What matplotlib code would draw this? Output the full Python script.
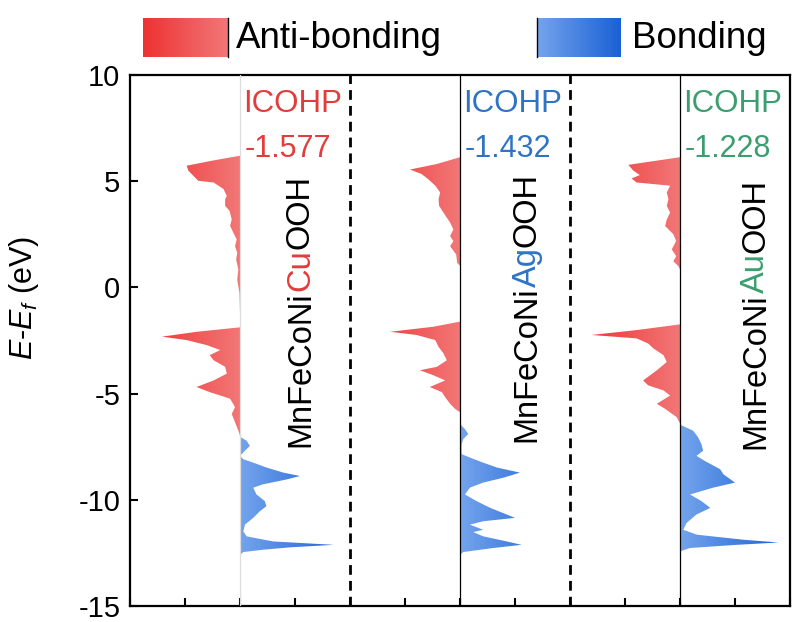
import numpy as np
import matplotlib
matplotlib.use('Agg')
import matplotlib.pyplot as plt
from matplotlib.colors import LinearSegmentedColormap

plt.rcParams['font.family'] = 'Liberation Sans'
plt.rcParams['mathtext.fontset'] = 'custom'
plt.rcParams['mathtext.rm'] = 'Liberation Sans'
plt.rcParams['mathtext.it'] = 'Liberation Sans:italic'
plt.rcParams['axes.unicode_minus'] = False

# -COHP profiles (negative = anti-bonding, positive = bonding), energies in eV
cu_anti_e = [6.2, 5.97, 5.73, 5.5, 5.26, 5.02, 4.94, 4.63, 4.31, 4.15, 3.84, 3.6, 3.2, 2.9, 2.57, 2.26, 1.94,
             1.63, 1.31, 0.84, 0.36, -0.27, -1.2, -1.88, -2.09, -2.32, -2.48, -2.72, -2.95, -3.19, -3.43, -3.74,
             -4.06, -4.38, -4.69, -4.93, -5.24, -5.64, -5.96, -6.35, -6.75, -6.98]
cu_anti = [0, -0.5, -0.97, -0.94, -0.85, -0.76, -0.48, -0.3, -0.24, -0.27, -0.27, -0.19, -0.15, -0.18, -0.12, -0.06,
           -0.09, -0.05, -0.07, -0.03, -0.05, -0.01, 0, 0, -0.79, -1.42, -0.97, -0.6, -0.36, -0.55, -0.48, -0.27,
           -0.24, -0.48, -0.79, -0.55, -0.18, -0.09, -0.15, -0.09, -0.03, 0]
cu_bond_e = [-7.03, -7.22, -7.46, -7.69, -7.93, -8.09, -8.25, -8.48, -8.72, -8.88, -9.04, -9.27, -9.43, -9.75,
             -10.06, -10.3, -10.54, -10.85, -11.17, -11.49, -11.72, -11.96, -12.12, -12.24, -12.35, -12.46, -12.59]
cu_bond = [0, 0.12, 0.18, 0.09, 0, 0.06, 0.24, 0.48, 0.79, 1.09, 0.85, 0.42, 0.24, 0.3, 0.45, 0.48, 0.36, 0.24,
           0.09, 0.06, 0.12, 0.6, 1.7, 0.9, 0.42, 0.06, 0]

ag_anti_e = [6.13, 5.81, 5.55, 5.34, 5.1, 4.79, 4.47, 4.15, 3.84, 3.52, 3.05, 2.73, 2.42, 2.18, 1.94, 1.55, 1.15,
             1.03, -1.61, -1.85, -2.09, -2.24, -2.48, -2.8, -3.11, -3.43, -3.74, -3.9, -4.14, -4.38, -4.69, -4.93,
             -5.17, -5.48, -5.72, -5.88]
ag_anti = [0, -0.42, -0.91, -0.7, -0.58, -0.45, -0.36, -0.39, -0.38, -0.3, -0.18, -0.12, -0.18, -0.12, -0.18, -0.07,
           -0.05, 0, 0, -0.48, -1.27, -0.79, -0.45, -0.39, -0.3, -0.24, -0.42, -0.73, -0.48, -0.27, -0.55, -0.33,
           -0.27, -0.18, -0.09, 0]
ag_bond_e = [-6.43, -6.67, -6.9, -7.14, -7.38, -7.85, -8.01, -8.25, -8.48, -8.72, -8.96, -9.19, -9.43, -9.75,
             -10.06, -10.38, -10.85, -11.01, -11.17, -11.41, -11.52, -11.72, -11.96, -12.12, -12.27, -12.46, -12.59]
ag_bond = [0, 0.09, 0.15, 0.06, 0.03, 0.03, 0.18, 0.42, 0.67, 1.09, 0.79, 0.42, 0.18, 0.09, 0.3, 0.55, 1.0, 0.42,
           0.18, 0.42, 0.24, 0.42, 0.85, 1.12, 0.6, 0.06, 0]

au_anti_e = [6.13, 5.92, 5.77, 5.5, 5.29, 5.13, 4.94, 4.79, 4.47, 4.15, 3.84, 3.52, 3.2, 2.89, 2.5, 2.18, 1.79,
             1.47, 1.23, 1.0, 0.85, -1.74, -2.01, -2.24, -2.4, -2.64, -2.88, -3.19, -3.51, -3.9, -4.38, -4.61,
             -4.85, -5.09, -5.48, -5.72, -6.11, -6.4]
au_anti = [0, -0.55, -0.94, -0.85, -0.73, -0.88, -0.79, -0.18, -0.24, -0.21, -0.24, -0.18, -0.24, -0.27, -0.12,
           -0.07, -0.15, -0.07, -0.12, -0.03, 0, 0, -0.79, -1.61, -0.79, -0.58, -0.48, -0.3, -0.24, -0.42, -0.67,
           -0.58, -0.3, -0.18, -0.42, -0.27, -0.06, 0]
au_bond_e = [-6.46, -6.75, -7.06, -7.38, -7.69, -7.93, -8.17, -8.56, -8.8, -9.19, -9.43, -9.75, -10.06, -10.38,
             -10.69, -11.09, -11.41, -11.64, -11.88, -12.01, -12.12, -12.27, -12.43]
au_bond = [0, 0.24, 0.33, 0.39, 0.42, 0.3, 0.45, 0.73, 0.79, 1.0, 0.6, 0.18, 0.39, 0.55, 0.3, 0.12, 0.06, 0.3, 1.15,
           1.79, 1.03, 0.18, 0]

metals = ['Cu', 'Ag', 'Au']
icohp = ['-1.577', '-1.432', '-1.228']
metal_colors = ['#e23c3c', '#2f74c4', '#3c9e6e']
y_ticks = [-15, -10, -5, 0, 5, 10]

panels = [(cu_anti_e, cu_anti, cu_bond_e, cu_bond),
          (ag_anti_e, ag_anti, ag_bond_e, ag_bond),
          (au_anti_e, au_anti, au_bond_e, au_bond)]

red_cmap = LinearSegmentedColormap.from_list('red', ['#ee3232', '#f27777'])
blue_cmap = LinearSegmentedColormap.from_list('blue', ['#74a4ec', '#1a60d6'])
grad = np.linspace(0, 1, 256).reshape(1, -1)

fig = plt.figure(figsize=(7.92, 6.22), dpi=100)
ax = fig.add_axes([130 / 792, 16 / 622, 660 / 792, 531 / 622])

def gradient_fill(ax, e, v, base, cmap, x0, x1):
    poly = ax.fill_betweenx(e, base + np.array(v), base, facecolor='none', edgecolor='none')
    im = ax.imshow(grad, extent=[x0, x1, -15, 10], cmap=cmap, aspect='auto', zorder=2,
                   interpolation='bilinear')
    im.set_clip_path(poly.get_paths()[0], transform=ax.transData)

text_x = [1.1, 1.22, 1.38]
text_bottom = [-7.5, -7.3, -7.6]
for i, (ae, av, be, bv) in enumerate(panels):
    base = 2 + 4 * i
    gradient_fill(ax, ae, av, base, red_cmap, base - 1.8, base)
    gradient_fill(ax, be, bv, base, blue_cmap, base, base + 1.9)
    ax.axvline(base, color='#dddddd' if i == 0 else 'black', lw=0.9, zorder=3)
    c = metal_colors[i]
    ax.text(base + 0.06, 8.65, 'ICOHP', color=c, fontsize=22.5, ha='left', va='center', zorder=4)
    ax.text(base + 0.08, 6.5, icohp[i], color=c, fontsize=22, ha='left', va='center', zorder=4)
    t1 = ax.text(base + text_x[i], text_bottom[i], 'MnFeCoNi', rotation=90, fontsize=23.5,
                 ha='center', va='bottom', zorder=4)
    t2 = ax.annotate(metals[i], xy=(0.5, 1), xycoords=t1, rotation=90, fontsize=23.5, color=c,
                     ha='center', va='bottom', zorder=4)
    ax.annotate('OOH', xy=(0.5, 1), xycoords=t2, rotation=90, fontsize=23.5,
                ha='center', va='bottom', zorder=4)

for xd in [4, 8]:
    ax.axvline(xd, color='black', lw=2.0, linestyle=(0, (3.5, 2.2)), zorder=3)

ax.set_xlim(0, 12)
ax.set_ylim(-15, 10)
ax.set_yticks(y_ticks)
ax.set_xticks(np.arange(0, 13, 1))
ax.set_xticklabels([])
ax.tick_params(direction='in', length=6, width=1.5, labelsize=21, pad=7)
for s in ax.spines.values():
    s.set_linewidth(1.6)
ax.set_ylabel(r'$E$-$E_f$ (eV)', fontsize=22)
ax.yaxis.set_label_coords(-0.135, 0.58)

# legend strip on top
lax = fig.add_axes([0, 1 - 62 / 622, 1, 62 / 622])
lax.axis('off')
lax.imshow(grad, extent=[143, 228, 57, 18], cmap=red_cmap, aspect='auto')
lax.plot([228, 228], [18, 57], color='black', lw=1)
lax.text(236, 38, 'Anti-bonding', fontsize=26.5, va='center', ha='left')
lax.imshow(grad, extent=[537, 621, 57, 18], cmap=blue_cmap, aspect='auto')
lax.plot([537, 537], [18, 57], color='black', lw=1)
lax.text(632, 38, 'Bonding', fontsize=26.5, va='center', ha='left')
lax.set_xlim(0, 792)
lax.set_ylim(62, 0)

fig.savefig('out.png', dpi=100)
